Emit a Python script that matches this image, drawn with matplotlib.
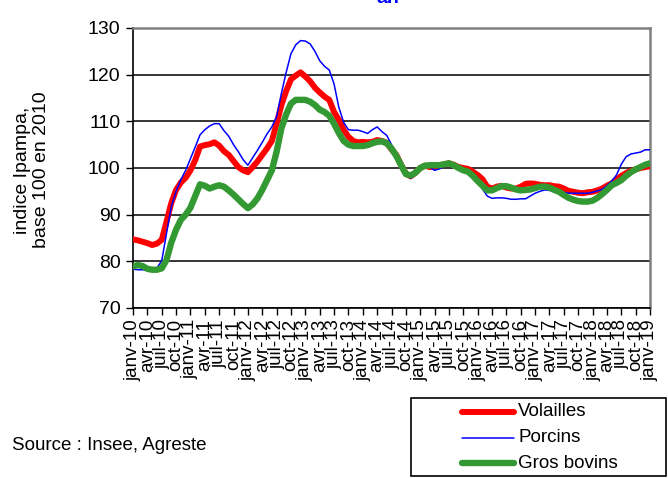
import matplotlib
matplotlib.use("Agg")
import matplotlib.pyplot as plt
from matplotlib.lines import Line2D
from matplotlib.patches import Rectangle

plt.rcParams["font.family"] = ["Liberation Sans", "DejaVu Sans"]

# monthly index, janv-10 .. janv-19
months_fr = ["janv", "avr", "juil", "oct"]
years = list(range(10, 20))
tick_labels = [f"{m}-{y}" for y in years for m in months_fr][:37]

volailles = [
    84.7, 84.5, 84.2, 83.9, 83.5, 83.8, 84.6, 88.5, 92.5, 95.3,
    96.9, 97.9, 99.5, 101.7, 104.6, 104.9, 105.1, 105.5, 104.8, 103.6,
    102.8, 101.5, 100.2, 99.5, 99.1, 100.2, 101.4, 102.8, 104.2, 105.8,
    109.5, 113.5, 116.5, 119.0, 119.8, 120.5, 119.6, 118.6, 117.2, 116.2,
    115.3, 114.6, 112.0, 110.3, 108.2, 106.7, 105.8, 105.5, 105.6, 105.5,
    105.6, 106.0, 105.8, 105.4, 104.0, 102.8, 100.7, 98.8, 98.2, 99.0,
    100.0, 100.5, 100.2, 100.2, 100.5, 100.8, 101.0, 100.7, 100.2, 100.0,
    99.8, 99.2, 98.5, 97.6, 96.0, 95.6, 96.0, 96.2, 95.8, 95.6,
    95.6, 96.0, 96.6, 96.7, 96.6, 96.4, 96.3, 96.3, 96.1, 96.0,
    95.6, 95.1, 94.9, 94.7, 94.6, 94.8, 94.9, 95.2, 95.6, 96.2,
    96.7, 97.5, 98.3, 98.9, 99.4, 99.7, 100.0, 100.2, 100.4,
]

porcins = [
    78.3, 78.2, 78.2, 78.1, 78.2, 78.6, 80.1, 86.0, 91.7, 95.0,
    97.5, 99.5, 102.0, 104.5, 107.1, 108.2, 109.0, 109.5, 109.5, 108.0,
    106.8, 105.0, 103.5, 101.8, 100.6, 102.2, 103.8, 105.5, 107.3, 108.8,
    111.0, 116.0, 120.5, 124.5, 126.4, 127.3, 127.2, 126.6, 125.0, 123.0,
    121.8, 121.0, 118.0, 113.0, 109.8, 108.2, 108.1, 108.1, 107.8, 107.4,
    108.2, 108.8, 107.8, 107.0, 105.0, 103.0, 101.0, 98.8, 97.8, 98.5,
    99.8, 100.4, 100.2, 99.5, 99.8, 100.4, 100.8, 100.6, 100.0, 99.5,
    99.0, 98.2, 97.0, 95.5, 94.0, 93.5, 93.6, 93.6, 93.5, 93.3,
    93.3, 93.4, 93.4, 94.0, 94.6, 95.0, 95.3, 95.2, 95.0, 95.0,
    94.8, 94.6, 94.6, 94.6, 94.6, 94.6, 94.8, 95.1, 95.4, 96.2,
    97.2, 98.5, 100.8, 102.4, 103.0, 103.2, 103.4, 103.9, 103.9,
]

gros_bovins = [
    78.9, 79.2, 79.0, 78.4, 78.2, 78.2, 78.5, 80.3, 84.0, 86.8,
    88.9, 90.0, 91.5, 94.0, 96.5, 96.2, 95.6, 96.0, 96.3, 96.0,
    95.2, 94.3, 93.3, 92.3, 91.4, 92.2, 93.5, 95.3, 97.4, 99.5,
    103.5, 108.5, 111.5, 113.8, 114.6, 114.6, 114.6, 114.2, 113.5, 112.5,
    112.0, 111.2, 109.5, 107.5, 105.8, 105.0, 104.7, 104.7, 104.7, 104.9,
    105.3, 105.6, 105.7, 105.3, 104.2, 102.6, 100.6, 98.7, 98.4, 99.0,
    100.0, 100.5, 100.6, 100.6, 100.6, 100.8, 101.0, 100.6, 100.0, 99.5,
    99.2, 98.3, 97.2, 96.2, 95.2, 95.2, 95.7, 96.1, 96.1, 95.8,
    95.4, 95.2, 95.3, 95.4, 95.7, 96.0, 96.0, 95.8, 95.3, 94.9,
    94.2, 93.6, 93.2, 92.9, 92.8, 92.8, 93.0, 93.6, 94.4, 95.3,
    96.3, 96.8, 97.4, 98.3, 99.1, 99.7, 100.2, 100.7, 101.0,
]

series = [
    ("Volailles", volailles, "#ff0000", 4.3),
    ("Porcins", porcins, "#0000ff", 1.1),
    ("Gros bovins", gros_bovins, "#339933", 4.6),
]

W, H = 668, 478
fig = plt.figure(figsize=(W / 100, H / 100), dpi=100)
ax = fig.add_axes([133 / W, 1 - 308 / H, (650 - 133) / W, (308 - 28) / H])

x = list(range(len(volailles)))
for name, vals, col, lw in series:
    ax.plot(x, vals, color=col, lw=lw, solid_capstyle="round", solid_joinstyle="round", zorder=3)

ax.set_xlim(0, len(x) - 1)
ax.set_ylim(70, 130)
ax.set_yticks(range(70, 131, 10))
ax.yaxis.grid(True, color="black", lw=1.1)
ax.set_axisbelow(True)

ax.set_xticks(range(0, len(x), 3))
ax.set_xticklabels(tick_labels, rotation=90, fontsize=13.5)
ax.tick_params(axis="y", labelsize=14, length=5, width=1, direction="out", pad=4)
ax.tick_params(axis="x", length=5, width=1, direction="out", pad=3)

for s in ["left", "bottom"]:
    ax.spines[s].set_color("black")
    ax.spines[s].set_linewidth(1.2)
for s in ["top", "right"]:
    ax.spines[s].set_color("#808080")
    ax.spines[s].set_linewidth(1.8)

fig.text(32 / W, 1 - 170 / H, "indice Ipampa,\nbase 100 en 2010", rotation=90,
         ha="center", va="center", multialignment="center", fontsize=14)

# title, cut off at top of the image
fig.text(388 / W, 1 - 3 / H, "an", color="#0000ff", fontweight="bold",
         fontsize=14, ha="center", va="baseline")

fig.text(12 / W, 1 - 445 / H, "Source : Insee, Agreste", fontsize=13.5,
         ha="left", va="center")

# legend box
fig.add_artist(Rectangle((411 / W, 1 - 476 / H), (666 - 411) / W, (476 - 398) / H,
                         transform=fig.transFigure, fill=False, ec="black", lw=1.2))
rows = [412, 438, 463]
for (name, vals, col, lw), yy in zip(series, rows):
    fig.add_artist(Line2D([462 / W, 514 / W], [1 - yy / H] * 2, color=col, lw=lw,
                          solid_capstyle="round", transform=fig.transFigure))
    fig.text(518 / W, 1 - yy / H, name, fontsize=13.5, ha="left", va="center")

fig.savefig("out.png", dpi=100)
